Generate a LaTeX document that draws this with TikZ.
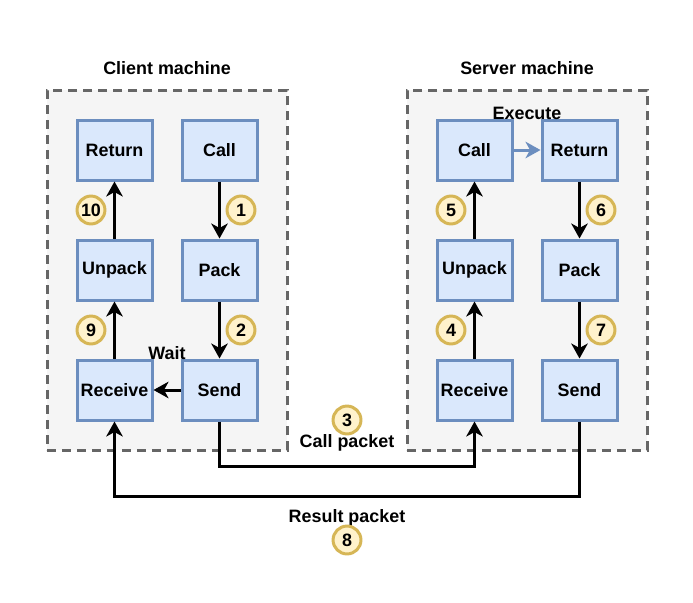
\documentclass[tikz,border=0pt]{standalone}
\usepackage{fontspec}
\setmainfont{Liberation Sans}
\usepackage{tikz}
\usetikzlibrary{arrows.meta, positioning, calc}
\definecolor{machfill}{HTML}{F5F5F5}
\definecolor{machline}{HTML}{666666}
\definecolor{stepfill}{HTML}{DAE8FC}
\definecolor{stepline}{HTML}{6C8EBF}
\definecolor{numfill}{HTML}{FFF2CC}
\definecolor{numline}{HTML}{D6B656}

\begin{document}
\begin{tikzpicture}[
    machine/.style={rectangle, draw=machline, fill=machfill, line width=1mm, dash pattern=on 3mm off 2mm, minimum width=80mm, minimum height=120mm},
    stepbox/.style={rectangle, draw=stepline, fill=stepfill, line width=1mm, minimum width=25mm, minimum height=20mm, font=\fontsize{17}{20}\selectfont\bfseries},
    num/.style={circle, draw=numline, fill=numfill, line width=1mm, minimum size=9.3mm, inner sep=0pt, font=\fontsize{17}{20}\selectfont\bfseries},
    caption/.style={font=\fontsize{17}{20}\selectfont\bfseries, inner sep=1pt},
    arrow/.style={-{Stealth[length=5mm, width=5.5mm, inset=1.5mm]}, line width=1mm}
]
\fill[white] (0,0) rectangle (23.1,-20.067);
\useasboundingbox (0,0) rectangle (23.1,-20.067);

% Machines
\node[machine] (client) at (5.567,-9) {};
\node[machine] (server) at (17.567,-9) {};
\node[caption] (clientname) at (5.567,-2.267) {Client machine};
\node[caption] (servername) at (17.567,-2.267) {Server machine};

% Client side
\node[stepbox] (creturn) at (3.817,-5) {Return};
\node[stepbox] (ccall) at (7.317,-5) {Call};
\node[stepbox] (cunpack) at (3.817,-9) {Unpack};
\node[stepbox] (cpack) at (7.317,-9) {Pack};
\node[stepbox] (crecv) at (3.817,-13) {Receive};
\node[stepbox] (csend) at (7.317,-13) {Send};

\draw[arrow] (ccall) -- (cpack);
\draw[arrow] (cpack) -- (csend);
\draw[arrow] (csend) -- (crecv);
\draw[arrow] (crecv) -- (cunpack);
\draw[arrow] (cunpack) -- (creturn);
\node[caption] (wait) at (5.567,-11.767) {Wait};

% Server side
\node[stepbox] (scall) at (15.817,-5) {Call};
\node[stepbox] (sreturn) at (19.317,-5) {Return};
\node[stepbox] (sunpack) at (15.817,-9) {Unpack};
\node[stepbox] (spack) at (19.317,-9) {Pack};
\node[stepbox] (srecv) at (15.817,-13) {Receive};
\node[stepbox] (ssend) at (19.317,-13) {Send};

\draw[arrow] (srecv) -- (sunpack);
\draw[arrow] (sunpack) -- (scall);
\draw[arrow, draw=stepline, fill=stepline] (scall) -- (sreturn);
\draw[arrow] (sreturn) -- (spack);
\draw[arrow] (spack) -- (ssend);
\node[caption] (execute) at (17.567,-3.767) {Execute};

% Packets
\draw[arrow] (csend.south) -- ++(0,-1.5) -| (srecv.south);
\draw[arrow] (ssend.south) -- ++(0,-2.5) -| (crecv.south);
\node[caption] (callpacket) at (11.567,-14.767) {Call packet};
\node[caption] (resultpacket) at (11.567,-17.267) {Result packet};

% Step numbers
\node[num] (n1) at (8.033,-7) {1};
\node[num] (n2) at (8.033,-11) {2};
\node[num] (n3) at (11.567,-14) {3};
\node[num] (n4) at (15.033,-11) {4};
\node[num] (n5) at (15.033,-7) {5};
\node[num] (n6) at (20.033,-7) {6};
\node[num] (n7) at (20.033,-11) {7};
\node[num] (n8) at (11.567,-18) {8};
\node[num] (n9) at (3.033,-11) {9};
\node[num] (n10) at (3.033,-7) {10};

\end{tikzpicture}
\end{document}
